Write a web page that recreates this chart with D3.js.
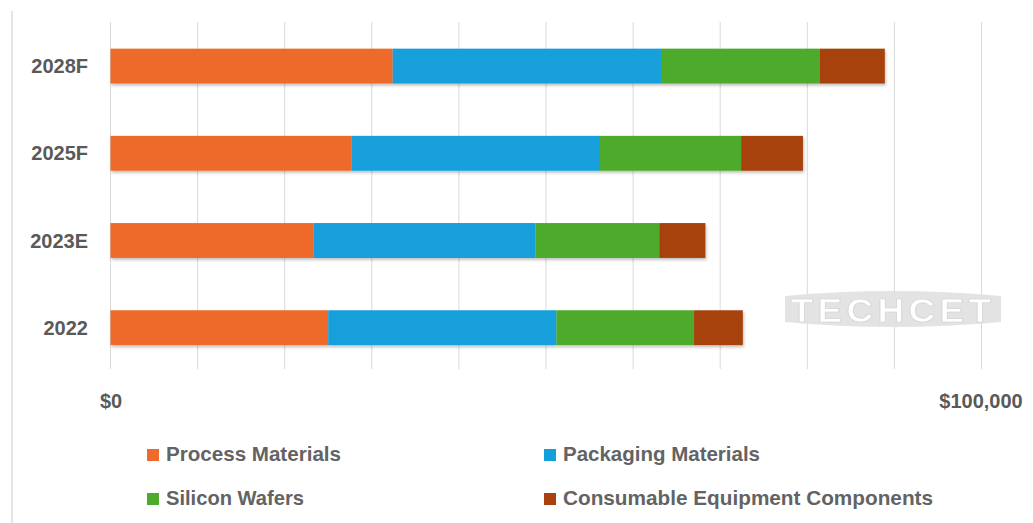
<!DOCTYPE html>
<html>
<head>
<meta charset="utf-8">
<script src="https://cdn.jsdelivr.net/npm/d3@7"></script>
<style>
  html, body { margin: 0; padding: 0; background: #ffffff; }
  svg { display: block; }
</style>
</head>
<body>
<svg id="chart" width="1033" height="523"></svg>
<script>
// ---- Data (US$ millions) ----
const categories = ["2028F", "2025F", "2023E", "2022"];
const seriesNames = ["Process Materials", "Packaging Materials", "Silicon Wafers", "Consumable Equipment Components"];
const processMaterials   = [32400, 27700, 23300, 25000];
const packagingMaterials = [30800, 28500, 25500, 26200];
const siliconWafers      = [18200, 16200, 14200, 15800];
const consumableEquip    = [7500, 7100, 5300, 5600];
const xTickValues = [0, 100000];
const xTickLabels = ["$0", "$100,000"];
const gridValues = [0, 10000, 20000, 30000, 40000, 50000, 60000, 70000, 80000, 90000, 100000];

const colors = ["#EE6B2B", "#129FDB", "#4DAA2C", "#A8430F"];

// ---- Build table ----
const seriesValues = [processMaterials, packagingMaterials, siliconWafers, consumableEquip];
const table = categories.map((c, i) => {
  const row = { category: c };
  seriesNames.forEach((s, j) => row[s] = seriesValues[j][i]);
  return row;
});
const stacked = d3.stack().keys(seriesNames)(table);

const svg = d3.select("#chart");

const x = d3.scaleLinear().domain([0, 100000]).range([110.5, 981.5]);
const y = d3.scaleBand().domain(categories).range([22.5, 371.3]).paddingInner(0.6).paddingOuter(0.3);

// left frame line
svg.append("line")
  .attr("x1", 12).attr("x2", 12).attr("y1", 11).attr("y2", 523)
  .attr("stroke", "#dcdcdc").attr("stroke-width", 1.5);

// gridlines
svg.append("g").selectAll("line").data(gridValues).join("line")
  .attr("x1", d => x(d)).attr("x2", d => x(d))
  .attr("y1", 22).attr("y2", 369)
  .attr("stroke", "#d9d9d9").attr("stroke-width", 1);

// watermark
const wm = svg.append("g").attr("opacity", 0.95);
wm.append("path")
  .attr("d", "M785,296 Q892,286 1001,296 L1001,322 Q892,332 785,322 Z")
  .attr("fill", "#e2e2e2");
wm.append("text")
  .attr("x", 893).attr("y", 322)
  .attr("text-anchor", "middle")
  .attr("font-family", "'Liberation Sans', Arial, sans-serif")
  .attr("font-weight", "bold")
  .attr("font-size", 34)
  .attr("letter-spacing", 4)
  .attr("fill", "#ffffff")
  .attr("stroke", "#cfcfcf")
  .attr("stroke-width", 0.7)
  .attr("textLength", 205)
  .attr("lengthAdjust", "spacingAndGlyphs")
  .text("TECHCET");

// shadow filter
const defs = svg.append("defs");
const f = defs.append("filter").attr("id", "shadow").attr("x", "-5%").attr("y", "-20%").attr("width", "110%").attr("height", "150%");
f.append("feDropShadow").attr("dx", 1).attr("dy", 2).attr("stdDeviation", 1.5).attr("flood-color", "#000").attr("flood-opacity", 0.25);

// bars
const barsG = svg.append("g").attr("filter", "url(#shadow)");
stacked.forEach((layer, j) => {
  barsG.append("g").attr("fill", colors[j])
    .selectAll("rect").data(layer).join("rect")
    .attr("x", d => x(d[0]))
    .attr("width", d => x(d[1]) - x(d[0]))
    .attr("y", d => y(d.data.category))
    .attr("height", y.bandwidth());
});

// category axis labels
const yAxis = d3.axisLeft(y).tickSize(0).tickPadding(0);
const yg = svg.append("g").attr("transform", "translate(88,0)").call(yAxis);
yg.select(".domain").remove();
yg.selectAll("text")
  .attr("font-family", "'Liberation Sans', Arial, sans-serif")
  .attr("font-weight", "bold")
  .attr("font-size", 20)
  .attr("fill", "#595959")
  .attr("dy", "0.35em");

// x axis labels
const xAxis = d3.axisBottom(x).tickValues(xTickValues).tickFormat((d, i) => xTickLabels[i]).tickSize(0).tickPadding(0);
const xg = svg.append("g").attr("transform", "translate(0,394)").call(xAxis);
xg.select(".domain").remove();
xg.selectAll("text")
  .attr("font-family", "'Liberation Sans', Arial, sans-serif")
  .attr("font-weight", "bold")
  .attr("font-size", 20)
  .attr("fill", "#595959")
  .attr("dy", "0.71em");
xg.selectAll(".tick").filter(d => d === 100000).select("text").attr("dx", -1);

// legend
const legendPos = [
  { x: 147, y: 461 }, { x: 544, y: 461 },
  { x: 147, y: 505 }, { x: 544, y: 505 }
];
const legendWidths = [175, 197, 138, 370];
const lg = svg.append("g");
seriesNames.forEach((s, i) => {
  const p = legendPos[i];
  lg.append("rect")
    .attr("x", p.x).attr("y", p.y - 12)
    .attr("width", 12).attr("height", 12)
    .attr("fill", colors[i]);
  lg.append("text")
    .attr("x", p.x + 19).attr("y", p.y)
    .attr("font-family", "'Liberation Sans Narrow', 'Liberation Sans', Arial, sans-serif")
    .attr("font-weight", "bold")
    .attr("font-size", 21)
    .attr("fill", "#636363")
    .attr("textLength", legendWidths[i])
    .attr("lengthAdjust", "spacingAndGlyphs")
    .text(s);
});
</script>
</body>
</html>
